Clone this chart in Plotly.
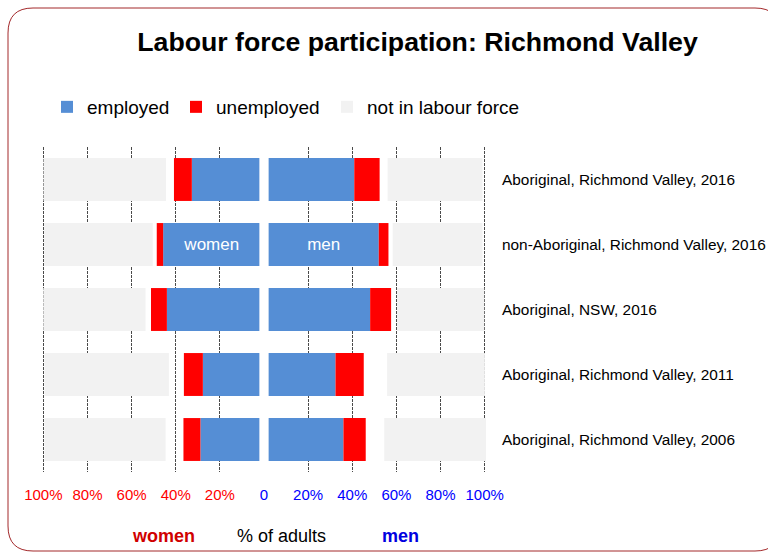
import numpy as np
import plotly.graph_objects as go

categories = [
    "Aboriginal, Richmond Valley, 2016",
    "non-Aboriginal, Richmond Valley, 2016",
    "Aboriginal, NSW, 2016",
    "Aboriginal, Richmond Valley, 2011",
    "Aboriginal, Richmond Valley, 2006",
]

women_employed = [30.6, 43.6, 41.9, 25.6, 26.7]
women_unemployed = [8.1, 2.9, 7.2, 8.6, 7.7]
women_not_stated = [3.6, 1.8, 2.5, 6.8, 8.1]
women_not_in_lf = [55.5, 49.2, 46.3, 56.4, 54.9]

men_employed = [38.8, 49.9, 46.0, 30.3, 33.9]
men_unemployed = [11.5, 4.4, 9.5, 12.8, 10.1]
men_not_stated = [3.6, 1.9, 2.7, 10.6, 8.4]
men_not_in_lf = [43.0, 40.7, 39.5, 44.3, 46.2]

tick_vals = [-100, -80, -60, -40, -20, 0, 20, 40, 60, 80, 100]
tick_labels = ["100%", "80%", "60%", "40%", "20%", "0", "20%", "40%", "60%", "80%", "100%"]

# style constants
CENTER_GAP = 2.1
BLUE = "#558ED5"
RED = "#FF0000"
GREY = "#F2F2F2"
FONT = "Liberation Sans, Arial, sans-serif"

L, R, T, B = 42, 282, 147, 81
W, H = 768, 553
pw = W - L - R
ph = H - T - B


def px(x):
    return (x - L) / pw


def py(y):
    return (H - B - y) / ph


fig = go.Figure()

series = [
    ("employed", BLUE, women_employed, men_employed, "legend"),
    ("unemployed", RED, women_unemployed, men_unemployed, "legend2"),
    ("not stated", "rgba(255,255,255,0)", women_not_stated, men_not_stated, None),
    ("not in labour force", GREY, women_not_in_lf, men_not_in_lf, "legend3"),
]

w_base = np.full(len(categories), CENTER_GAP)
m_base = np.full(len(categories), CENTER_GAP)
for name, color, wv, mv, leg in series:
    wv = np.array(wv)
    mv = np.array(mv)
    wtext = ["women" if (name == "employed" and i == 1) else "" for i in range(len(categories))]
    mtext = ["men" if (name == "employed" and i == 1) else "" for i in range(len(categories))]
    fig.add_trace(go.Bar(
        y=categories, x=-wv, base=-w_base, orientation="h", name=name,
        marker=dict(color=color, line=dict(width=0)), legendgroup=name,
        showlegend=leg is not None, legend=leg or "legend",
        text=wtext, textposition="inside", insidetextanchor="middle",
        textfont=dict(color="white", size=17, family=FONT), hoverinfo="skip",
    ))
    fig.add_trace(go.Bar(
        y=categories, x=mv, base=m_base, orientation="h", name=name,
        marker=dict(color=color, line=dict(width=0)), legendgroup=name,
        showlegend=False, legend=leg or "legend",
        text=mtext, textposition="inside", insidetextanchor="middle",
        textfont=dict(color="white", size=17, family=FONT), hoverinfo="skip",
    ))
    w_base = w_base + wv
    m_base = m_base + mv

ticktext = []
for v, t in zip(tick_vals, tick_labels):
    c = RED if v < 0 else "#0000FF"
    ticktext.append(f"<span style='color:{c}'>{t}</span>")

# rounded border
x0, y0, x1, y1, r = 8, 8, 780, 551, 25
path = (
    f"M{px(x0 + r)},{py(y0)} L{px(x1 - r)},{py(y0)} Q{px(x1)},{py(y0)} {px(x1)},{py(y0 + r)} "
    f"L{px(x1)},{py(y1 - r)} Q{px(x1)},{py(y1)} {px(x1 - r)},{py(y1)} "
    f"L{px(x0 + r)},{py(y1)} Q{px(x0)},{py(y1)} {px(x0)},{py(y1 - r)} "
    f"L{px(x0)},{py(y0 + r)} Q{px(x0)},{py(y0)} {px(x0 + r)},{py(y0)} Z"
)


def legend_at(xpix):
    return dict(orientation="h", xref="container", x=xpix / W, xanchor="left",
                yref="container", y=1 - 107 / H, yanchor="middle",
                font=dict(size=19, family=FONT, color="black"),
                bgcolor="rgba(0,0,0,0)", itemclick=False, itemdoubleclick=False)


fig.update_layout(
    width=W, height=H,
    margin=dict(l=L, r=R, t=T, b=B),
    paper_bgcolor="white", plot_bgcolor="white",
    barmode="overlay", bargap=0.34,
    font=dict(family=FONT, color="black"),
    title=dict(text="<b>Labour force participation: Richmond Valley</b>",
               font=dict(size=26.7, family=FONT, color="black"),
               xref="container", x=417.5 / W, xanchor="center",
               yref="container", y=1 - 42 / H, yanchor="middle"),
    legend=legend_at(47),
    legend2=legend_at(176),
    legend3=legend_at(327),
    xaxis=dict(range=[-100.6, 100.6], tickvals=tick_vals, ticktext=ticktext,
               tickfont=dict(size=15, family=FONT), showgrid=True,
               gridcolor="#4a4a4a", griddash="3px,1px", gridwidth=1,
               zeroline=True, zerolinecolor="white", zerolinewidth=3,
               showline=False, ticks="", ticklabelstandoff=12, fixedrange=True),
    yaxis=dict(categoryorder="array", categoryarray=categories, autorange="reversed",
               side="right", showgrid=False, zeroline=False, ticks="",
               tickfont=dict(size=15.4, family=FONT, color="black"),
               ticklabelstandoff=15, fixedrange=True, automargin=False),
    shapes=[dict(type="path", path=path, xref="paper", yref="paper",
                 line=dict(color="#A3282A", width=1), fillcolor="rgba(0,0,0,0)",
                 layer="above")],
    annotations=[
        dict(text="<b>women</b>", x=px(163.5), y=py(536), xref="paper", yref="paper",
             xanchor="center", yanchor="middle",
             showarrow=False, font=dict(size=18, color="#D00000", family=FONT)),
        dict(text="% of adults", x=px(281.5), y=py(536), xref="paper", yref="paper",
             xanchor="center", yanchor="middle",
             showarrow=False, font=dict(size=18, color="black", family=FONT)),
        dict(text="<b>men</b>", x=px(400), y=py(536), xref="paper", yref="paper",
             xanchor="center", yanchor="middle",
             showarrow=False, font=dict(size=18, color="#0000E0", family=FONT)),
    ],
)

fig.write_html("out.html", config={"displayModeBar": False},
               post_script="document.body.style.margin='0';")
